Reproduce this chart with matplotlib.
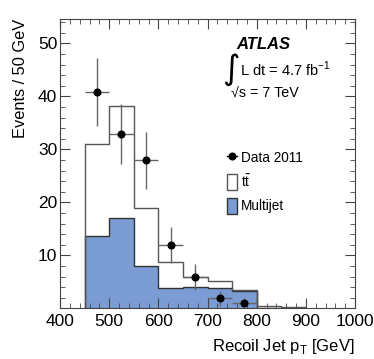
import numpy as np
import matplotlib
matplotlib.use("Agg")
import matplotlib.pyplot as plt
from matplotlib.patches import Patch
from matplotlib.lines import Line2D
from matplotlib.ticker import MultipleLocator

plt.rcParams['font.family'] = ['Liberation Sans', 'DejaVu Sans']

# bin edges of the recoil jet pT histogram [GeV]
bin_edges = [450, 500, 550, 600, 650, 700, 750, 800, 850, 900]
# stacked prediction: multijet at the bottom, ttbar on top
multijet = [13.7, 17.0, 8.0, 3.9, 4.0, 3.8, 3.2, 0.0, 0.0]
ttbar = [17.3, 21.2, 11.0, 4.8, 2.0, 1.35, 0.2, 0.4, 0.2]

# data 2011
data_x = [475, 525, 575, 625, 675, 725, 775]
data_y = [40.9, 32.9, 27.9, 11.9, 5.9, 1.9, 0.95]
data_err = [6.4, 5.7, 5.3, 3.4, 2.4, 1.4, 1.0]

BLUE = '#7b9bd4'

fig = plt.figure(figsize=(3.74, 3.59), dpi=100)
ax = fig.add_axes([60 / 374, 1 - 308.3 / 359, 295 / 374, 289.3 / 359])

edges = np.array(bin_edges)
mj = np.array(multijet)
total = mj + np.array(ttbar)

# multijet filled
ax.stairs(mj, edges, fill=True, color=BLUE, zorder=1)
ax.stairs(mj, edges, color='#333333', linewidth=1.0, zorder=2)
# total outline
ax.stairs(total, edges, baseline=None, color='#555555', linewidth=1.0, zorder=2)
ax.plot([edges[0], edges[0]], [0, total[0]], color='#555555', linewidth=1.0, zorder=2)

# data
ax.errorbar(data_x, data_y, yerr=data_err, xerr=25, fmt='o', color='black',
            ecolor='#666666', elinewidth=1.0, markersize=4.8, capsize=0, zorder=3)

ax.set_xlim(400, 1000)
ax.set_ylim(0, 54.6)
ax.xaxis.set_major_locator(MultipleLocator(100))
ax.xaxis.set_minor_locator(MultipleLocator(20))
ax.yaxis.set_major_locator(MultipleLocator(10))
ax.yaxis.set_minor_locator(MultipleLocator(2))
ax.set_yticks([10, 20, 30, 40, 50])
ax.tick_params(which='both', direction='in', top=True, right=True,
               labelsize=12.5, color='#444444')
ax.tick_params(which='major', length=7)
ax.tick_params(which='minor', length=3.5)
ax.tick_params(axis='x', pad=4)
ax.tick_params(axis='y', pad=2)
for s in ax.spines.values():
    s.set_color('#444444')

ax.set_xlabel('Recoil Jet p$_\\mathregular{T}$ [GeV]', fontsize=12, loc='right',
              labelpad=6)
ax.set_ylabel('Events / 50 GeV', fontsize=11.8, loc='top', labelpad=7)

ax.text(0.597, 0.913, 'ATLAS', transform=ax.transAxes, fontsize=12,
        fontweight='bold', fontstyle='italic', va='center')
ax.text(0.55, 0.824, r'$\int$', transform=ax.transAxes, fontsize=17,
        va='center')
ax.text(0.61, 0.826, 'L dt = 4.7 fb$^\\mathregular{-1}$', transform=ax.transAxes,
        fontsize=10.5, va='center')
ax.text(0.58, 0.74, '\u221as = 7 TeV', transform=ax.transAxes, fontsize=10.3,
        va='center')

handles = [
    Line2D([], [], marker='o', color='black', markersize=4.8, linewidth=1.0),
    Patch(facecolor='white', edgecolor='#555555'),
    Patch(facecolor=BLUE, edgecolor='#333333'),
]
labels = ['Data 2011', 't$\\bar{\\mathregular{t}}$', 'Multijet']
ax.legend(handles, labels, loc='upper left', bbox_to_anchor=(0.523, 0.592),
          frameon=False, fontsize=9.8, handlelength=0.75, handleheight=1.45,
          handletextpad=0.3, labelspacing=0.55)

fig.savefig('out.png', dpi=100)
